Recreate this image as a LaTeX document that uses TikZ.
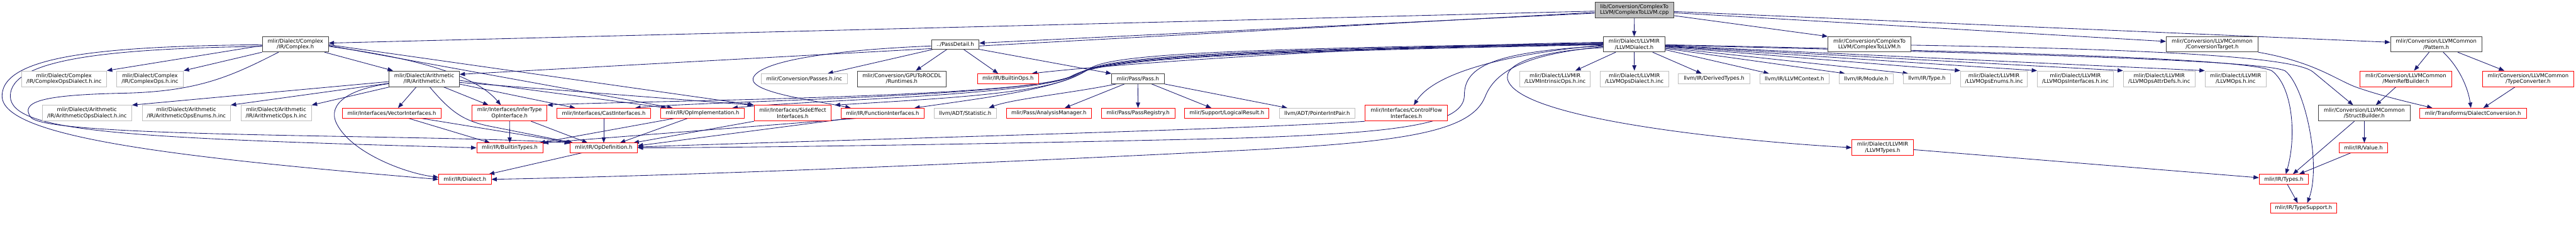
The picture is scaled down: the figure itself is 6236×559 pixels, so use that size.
\documentclass[tikz,border=0pt]{standalone}
\usepackage{fontspec}
\setmainfont{DejaVu Sans}
\usetikzlibrary{arrows.meta,calc}
\definecolor{edgeblue}{RGB}{25,25,112}
\definecolor{nodeblack}{RGB}{64,64,64}
\definecolor{grayseventy}{RGB}{191,191,191}
\definecolor{nodered}{RGB}{255,0,0}
\pgfdeclarelayer{bg}
\pgfsetlayers{bg,main}
\tikzset{
  base/.style={draw, fill=white, line width=1.3pt, inner sep=0pt, align=center, text=black},
  bk/.style={base, draw=nodeblack},
  rd/.style={base, draw=nodered},
  gy/.style={base, draw=grayseventy},
  topnode/.style={base, draw=nodeblack, fill=grayseventy},
  arr/.style={draw=edgeblue, line width=1.3pt, -{Triangle[length=13pt,width=10pt]}}
}
\newcommand{\bx}[7]{\node[#1, minimum width=#5pt, minimum height=#6pt] (#2) at (#3,#4) {#7};}
\begin{document}
\begin{tikzpicture}[x=1pt,y=-1pt,font=\fontsize{12.8pt}{14.3pt}\selectfont]
\useasboundingbox (0,0) rectangle (6236,559);
% row 0
\bx{topnode}{T}{3956.5}{24}{191}{38}{lib/Conversion/ComplexTo\\LLVM/ComplexToLLVM.cpp}
% row 1
\bx{bk}{CH}{715}{107.5}{160}{37}{mlir/Dialect/Complex\\/IR/Complex.h}
\bx{bk}{PD}{2312.5}{107.5}{115}{23}{../PassDetail.h}
\bx{bk}{LD}{3956}{107.5}{148}{37}{mlir/Dialect/LLVMIR\\/LLVMDialect.h}
\bx{bk}{CTLH}{4525.5}{107.5}{201}{37}{mlir/Conversion/ComplexTo\\LLVM/ComplexToLLVM.h}
\bx{bk}{CT}{5355}{107.5}{222}{37}{mlir/Conversion/LLVMCommon\\/ConversionTarget.h}
\bx{bk}{PAT}{5897.5}{107.5}{221}{37}{mlir/Conversion/LLVMCommon\\/Pattern.h}
% row 2
\bx{gy}{CODI}{155}{191}{206}{38}{mlir/Dialect/Complex\\/IR/ComplexOpsDialect.h.inc}
\bx{gy}{COI}{363}{191}{162}{38}{mlir/Dialect/Complex\\/IR/ComplexOps.h.inc}
\bx{bk}{AR}{1027}{191}{170}{38}{mlir/Dialect/Arithmetic\\/IR/Arithmetic.h}
\bx{gy}{PI}{1947}{191}{208}{24}{mlir/Conversion/Passes.h.inc}
\bx{bk}{GR}{2183}{191}{216}{38}{mlir/Conversion/GPUToROCDL\\/Runtimes.h}
\bx{rd}{BO}{2440}{191}{148}{24}{mlir/IR/BuiltinOps.h}
\bx{bk}{PS}{2754.5}{191}{127}{24}{mlir/Pass/Pass.h}
\bx{gy}{LIO}{3764.5}{191}{171}{38}{mlir/Dialect/LLVMIR\\/LLVMIntrinsicOps.h.inc}
\bx{gy}{LODI}{3956.5}{191}{165}{38}{mlir/Dialect/LLVMIR\\/LLVMOpsDialect.h.inc}
\bx{gy}{DT}{4149.5}{191}{173}{24}{llvm/IR/DerivedTypes.h}
\bx{gy}{LC}{4344}{191}{168}{24}{llvm/IR/LLVMContext.h}
\bx{gy}{MOD}{4517.5}{191}{131}{24}{llvm/IR/Module.h}
\bx{gy}{TY}{4664.5}{191}{115}{24}{llvm/IR/Type.h}
\bx{gy}{LOE}{4827}{191}{162}{38}{mlir/Dialect/LLVMIR\\/LLVMOpsEnums.h.inc}
\bx{gy}{LOIF}{5024}{191}{184}{38}{mlir/Dialect/LLVMIR\\/LLVMOpsInterfaces.h.inc}
\bx{gy}{LOAD}{5227}{191}{174}{38}{mlir/Dialect/LLVMIR\\/LLVMOpsAttrDefs.h.inc}
\bx{gy}{LO}{5412}{191}{148}{38}{mlir/Dialect/LLVMIR\\/LLVMOps.h.inc}
\bx{rd}{MRB}{5824}{191}{222}{38}{mlir/Conversion/LLVMCommon\\/MemRefBuilder.h}
\bx{rd}{TC}{6120}{191}{222}{38}{mlir/Conversion/LLVMCommon\\/TypeConverter.h}
% row 3
\bx{gy}{AODI}{210.5}{274.5}{217}{38}{mlir/Dialect/Arithmetic\\/IR/ArithmeticOpsDialect.h.inc}
\bx{gy}{AOE}{451}{274.5}{214}{38}{mlir/Dialect/Arithmetic\\/IR/ArithmeticOpsEnums.h.inc}
\bx{gy}{AOI}{668.5}{274.5}{171}{38}{mlir/Dialect/Arithmetic\\/IR/ArithmeticOps.h.inc}
\bx{rd}{VI}{948.5}{274.5}{239}{24}{mlir/Interfaces/VectorInterfaces.h}
\bx{rd}{IT}{1233.5}{274.5}{181}{38}{mlir/Interfaces/InferType\\OpInterface.h}
\bx{rd}{CI}{1461.5}{274.5}{227}{24}{mlir/Interfaces/CastInterfaces.h}
\bx{rd}{OI}{1700.5}{274.5}{203}{24}{mlir/IR/OpImplementation.h}
\bx{rd}{SE}{1919}{274.5}{186}{38}{mlir/Interfaces/SideEffect\\Interfaces.h}
\bx{rd}{FI}{2136.5}{274.5}{201}{24}{mlir/IR/FunctionInterfaces.h}
\bx{gy}{ST}{2336.5}{274.5}{151}{24}{llvm/ADT/Statistic.h}
\bx{rd}{AM}{2539}{274.5}{206}{24}{mlir/Pass/AnalysisManager.h}
\bx{rd}{PR}{2755}{274.5}{178}{24}{mlir/Pass/PassRegistry.h}
\bx{rd}{LR}{2970}{274.5}{204}{24}{mlir/Support/LogicalResult.h}
\bx{gy}{PIP}{3188.5}{274.5}{183}{24}{llvm/ADT/PointerIntPair.h}
\bx{rd}{CF}{3404.5}{274.5}{199}{38}{mlir/Interfaces/ControlFlow\\Interfaces.h}
\bx{bk}{SB}{5723.5}{274.5}{221}{38}{mlir/Conversion/LLVMCommon\\/StructBuilder.h}
\bx{rd}{DC}{5986.5}{274.5}{259}{24}{mlir/Transforms/DialectConversion.h}
% row 4
\bx{rd}{BT}{1234}{358.5}{160}{23}{mlir/IR/BuiltinTypes.h}
\bx{rd}{OD}{1461.5}{358.5}{163}{23}{mlir/IR/OpDefinition.h}
\bx{rd}{LT}{4557.5}{358}{149}{38}{mlir/Dialect/LLVMIR\\/LLVMTypes.h}
\bx{rd}{VAL}{5721.5}{358.5}{117}{23}{mlir/IR/Value.h}
% row 5
\bx{rd}{DIA}{1125.5}{435}{127}{24}{mlir/IR/Dialect.h}
\bx{rd}{TYP}{5528.5}{435}{119}{24}{mlir/IR/Types.h}
% row 6
\bx{rd}{TS}{5576.5}{504.5}{161}{23}{mlir/IR/TypeSupport.h}

\begin{pgfonlayer}{bg}
\fill[white] (0,0) rectangle (6236,559);
% from the source file
\draw[arr] (T.south) -- (LD.north);
\draw[arr] ($(T.west)+(0,3)$) -- ($(CH.east)+(0,-3)$);
\draw[arr] ($(T.west)+(0,6)$) -- ($(AR.north east)+(0,9)$);
\draw[arr] ($(T.west)+(0,8)$) -- ($(PD.east)+(0,-3)$);
\draw[arr] ($(T.east)+(0,14)$) -- (CTLH.north west);
\draw[arr] ($(T.east)+(0,7)$) -- ($(CT.west)+(0,-7)$);
\draw[arr] ($(T.east)+(0,4)$) -- ($(PAT.west)+(0,-5)$);
% Complex.h
\draw[arr] ($(CH.west)+(0,3)$) -- (CODI.north east);
\draw[arr] (CH.south west) -- (COI.north east);
\draw[arr] ($(CH.south east)+(-10,0)$) -- ($(AR.north west)+(10,0)$);
\draw[arr] ($(CH.east)+(0,5)$) .. controls (1000,140) and (1150,180) .. ($(IT.north west)+(70,0)$);
\draw[arr] ($(CH.east)+(0,3)$) -- ($(OI.north west)+(30,0)$);
\draw[arr] ($(CH.east)+(0,1)$) -- (SE.north west);
\draw[arr] ($(CH.west)+(0,1)$) .. controls (250,112) and (5,135) .. (5,233) .. controls (5,330) and (400,380) .. (DIA.west);
\draw[arr] ($(CH.west)+(0,5)$) .. controls (250,118) and (25,145) .. (25,233) .. controls (25,320) and (300,335) .. (BT.west);
\draw[arr] ($(CH.south west)+(40,0)$) .. controls (560,185) and (480,222) .. (300,226) .. controls (110,230) and (45,245) .. (75,285) .. controls (120,335) and (1000,325) .. (OD.north west);
% Arithmetic.h
\draw[arr] ($(AR.west)+(0,7)$) -- (AODI.north east);
\draw[arr] ($(AR.west)+(0,11)$) -- (AOE.north east);
\draw[arr] ($(AR.south west)+(3,0)$) -- (AOI.north east);
\draw[arr] ($(AR.south)+(-19,0)$) -- ($(VI.north)+(15,0)$);
\draw[arr] ($(AR.south)+(46,0)$) -- ($(IT.north west)+(40,0)$);
\draw[arr] ($(AR.east)+(0,13)$) -- ($(CI.north west)+(45,0)$);
\draw[arr] ($(AR.east)+(0,4)$) -- ($(OI.north west)+(15,0)$);
\draw[arr] ($(AR.east)+(0,9)$) -- ($(SE.north west)+(-3,0)$);
\draw[arr] ($(AR.west)+(0,12)$) .. controls (850,215) and (790,250) .. (815,300) .. controls (850,370) and (980,420) .. ($(DIA.west)+(0,-5)$);
\draw[arr] ($(AR.south)+(13,0)$) .. controls (1090,270) and (1120,292) .. (1180,305) -- ($(OD.north west)+(8,0)$);
% PassDetail.h
\draw[arr] ($(PD.south west)+(5,0)$) -- ($(PI.north east)+(-48,0)$);
\draw[arr] ($(PD.south)+(-20,0)$) -- ($(GR.north)+(34,0)$);
\draw[arr] ($(PD.south)+(20,0)$) -- ($(BO.north west)+(51,0)$);
\draw[arr] (PD.south east) -- (PS.north west);
\draw[arr] ($(PD.west)+(0,4)$) .. controls (2000,122) and (1835,150) .. (1823,190) .. controls (1815,225) and (1980,245) .. ($(FI.north west)+(24,0)$);
% Pass.h
\draw[arr] ($(PS.south west)+(12,0)$) .. controls (2600,225) and (2450,240) .. ($(ST.north east)+(-19,0)$);
\draw[arr] ($(PS.south west)+(32,0)$) -- ($(AM.north east)+(-65,0)$);
\draw[arr] (PS.south) -- (PR.north);
\draw[arr] ($(PS.south east)+(-31,0)$) -- ($(LR.north west)+(65,0)$);
\draw[arr] (PS.south east) -- ($(PIP.north west)+(20,0)$);
% LLVMDialect.h
\draw[arr] ($(LD.south west)+(30,0)$) -- ($(LIO.north east)+(-37,0)$);
\draw[arr] (LD.south) -- (LODI.north);
\draw[arr] ($(LD.south east)+(-30,0)$) -- ($(DT.north west)+(57,0)$);
\draw[arr] ($(LD.east)+(0,13)$) -- ($(LC.north west)+(23,0)$);
\draw[arr] ($(LD.east)+(0,10)$) -- ($(MOD.north west)+(15,0)$);
\draw[arr] ($(LD.east)+(0,8)$) -- ($(TY.north west)+(13,0)$);
\draw[arr] ($(LD.east)+(0,6)$) -- (LOE.north west);
\draw[arr] ($(LD.east)+(0,5)$) -- (LOIF.north west);
\draw[arr] ($(LD.east)+(0,4)$) -- (LOAD.north west);
\draw[arr] ($(LD.east)+(0,3)$) -- (LO.north west);
\draw[arr] ($(LD.east)+(0,1)$) .. controls (4800,125) and (5440,140) .. (5500,172) .. controls (5550,210) and (5560,330) .. ($(TYP.north)+(5,0)$);
\draw[arr] ($(LD.east)+(0,2)$) .. controls (4800,128) and (5480,145) .. (5532,172) .. controls (5580,210) and (5620,400) .. ($(TS.north west)+(90,0)$);
\draw[arr] ($(LD.west)+(0,8)$) .. controls (3700,125) and (3610,165) .. (3665,215) .. controls (3760,300) and (4250,345) .. (LT.west);
\draw[arr] ($(LD.west)+(0,-5)$) .. controls (3300,112) and (2700,155) .. ($(BO.north east)+(-17,0)$);
\draw[arr] ($(LD.west)+(0,-3)$) .. controls (3000,118) and (2700,130) .. (2640,165) .. controls (2570,215) and (2400,235) .. ($(FI.north east)+(-24,0)$);
\draw[arr] ($(LD.west)+(0,-2)$) .. controls (3000,120) and (2700,135) .. (2625,172) .. controls (2560,225) and (2300,238) .. ($(SE.north east)+(8,0)$);
\draw[arr] ($(LD.west)+(0,-1)$) .. controls (3000,122) and (2690,138) .. (2615,176) .. controls (2540,232) and (2000,240) .. ($(OI.north east)+(-30,0)$);
\draw[arr] ($(LD.west)+(0,0)$) .. controls (3000,124) and (2680,140) .. (2605,180) .. controls (2520,235) and (1700,245) .. ($(CI.north east)+(-38,0)$);
\draw[arr] ($(LD.west)+(0,1)$) .. controls (3000,126) and (2670,142) .. (2595,184) .. controls (2500,238) and (1500,245) .. (IT.north east);
\draw[arr] ($(LD.west)+(0,2)$) .. controls (3700,125) and (3480,165) .. ($(CF.north)+(18,0)$);
\draw[arr] ($(LD.west)+(0,4)$) .. controls (3620,125) and (3545,160) .. (3545,230) .. controls (3545,300) and (3400,322) .. (3000,335) .. controls (2400,350) and (1800,358) .. (OD.east);
\draw[arr] ($(LD.west)+(0,6)$) .. controls (3700,130) and (3620,170) .. (3595,235) .. controls (3560,320) and (3400,345) .. (3000,365) .. controls (2400,395) and (1700,425) .. (DIA.east);
% interfaces to IR
\draw[arr] ($(VI.south)+(41,0)$) -- ($(BT.north west)+(33,0)$);
\draw[arr] ($(VI.south east)+(-48,0)$) -- ($(OD.north west)+(5,0)$);
\draw[arr] (IT.south) -- (BT.north);
\draw[arr] ($(IT.south east)+(-39,0)$) -- ($(OD.north west)+(43,0)$);
\draw[arr] (CI.south) -- (OD.north);
\draw[arr] ($(OI.south west)+(34,0)$) -- ($(BT.north east)+(-8,0)$);
\draw[arr] ($(OI.south west)+(66,0)$) -- ($(OD.north east)+(-43,0)$);
\draw[arr] (SE.south west) -- ($(OD.north east)+(-10,0)$);
\draw[arr] ($(FI.south west)+(37,0)$) -- (BT.north east);
\draw[arr] ($(FI.south west)+(20,0)$) -- ($(OD.east)+(0,-5)$);
\draw[arr] (CF.south west) .. controls (3000,315) and (2000,340) .. ($(OD.east)+(0,-2)$);
\draw[arr] ($(OD.south west)+(30,0)$) -- ($(DIA.north east)+(-6,0)$);
% right part
\draw[arr] ($(CTLH.east)+(0,2)$) .. controls (5250,120) and (5560,140) .. (5600,175) -- ($(SB.north west)+(84,0)$);
\draw[arr] (CT.south east) .. controls (5600,150) and (5650,190) .. (5700,210) .. controls (5760,232) and (5840,250) .. ($(DC.north west)+(32,0)$);
\draw[arr] ($(PAT.south west)+(94,0)$) -- ($(MRB.north)+(20,0)$);
\draw[arr] ($(PAT.south)+(17,0)$) .. controls (5955,165) and (5975,215) .. ($(DC.north)+(-5,0)$);
\draw[arr] ($(PAT.south east)+(-59,0)$) -- ($(TC.north west)+(54,0)$);
\draw[arr] ($(TC.south)+(-31,0)$) -- ($(DC.north east)+(-105,0)$);
\draw[arr] ($(MRB.south west)+(88,0)$) -- ($(SB.north)+(28,0)$);
\draw[arr] (SB.south) -- ($(VAL.north)+(2,0)$);
\draw[arr] ($(SB.south west)+(87,0)$) -- ($(TYP.north east)+(-38,0)$);
\draw[arr] ($(VAL.south west)+(29,0)$) -- ($(TYP.north east)+(-23,0)$);
\draw[arr] ($(TYP.south)+(9,0)$) -- ($(TS.north west)+(67,0)$);
\draw[arr] ($(LT.east)+(0,5)$) -- ($(TYP.west)+(0,-4)$);
\end{pgfonlayer}
\end{tikzpicture}
\end{document}
